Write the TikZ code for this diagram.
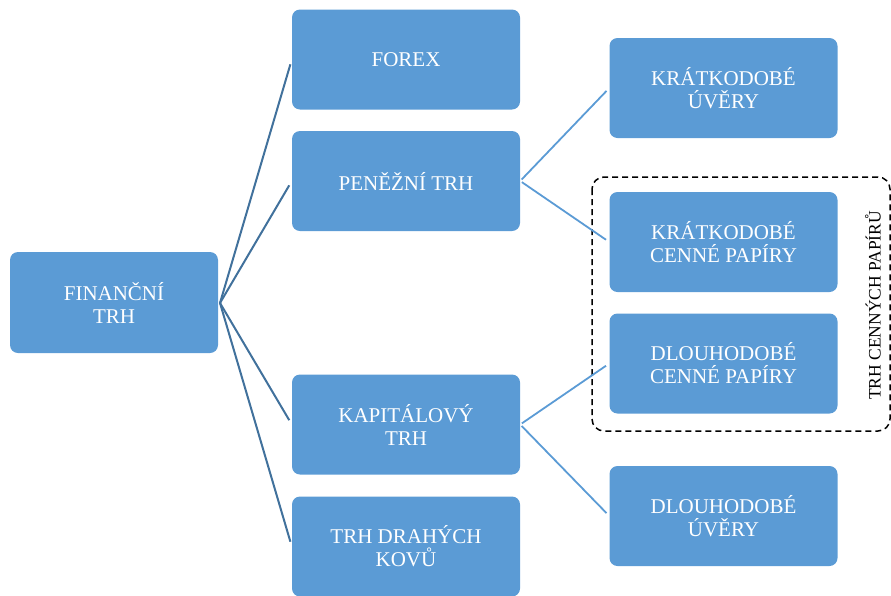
\documentclass[tikz,border=0pt]{standalone}
\usepackage{fontspec}
\setmainfont{Liberation Serif}
\definecolor{boxblue}{HTML}{5B9BD5}
\definecolor{linedark}{HTML}{41719C}
\begin{document}
\begin{tikzpicture}
[x=1pt,y=-1pt,
 boxDecorate/.style={shape=rectangle,rounded corners=8pt,fill=boxblue,text=white,
   minimum width=228pt,minimum height=100pt,inner sep=0pt,align=center,
   font=\fontsize{21}{23}\selectfont},
 lineDecorate/.style={-,line width=2pt,draw=linedark,shorten >=5pt},
 subLineDecorate/.style={-,line width=1.8pt,draw=boxblue,shorten <=2pt,shorten >=4pt},
 groupDecorate/.style={draw=black,line width=1.5pt,dash pattern=on 6pt off 4pt,rounded corners=12pt}]
\useasboundingbox (0,0) rectangle (891,595);
%% group of securities markets
\draw[groupDecorate] (592,177) rectangle (890,431);
\node (grouplabel) at (873,305.5) [rotate=90,font=\fontsize{17.5}{20}\selectfont] {TRH CENNÝCH PAPÍRŮ};
%% boxes
\node (fin) at (114,302.5) [boxDecorate,minimum width=208pt,minimum height=101pt] {FINANČNÍ\\TRH};
\coordinate (hub) at (220,303);
\foreach \nodename/\x/\y/\txt in {forex/406/59.5/{FOREX},
    penez/406/181/{PENĚŽNÍ TRH},
    kapital/406/424.5/{KAPITÁLOVÝ\\TRH},
    kovy/406/546.5/{TRH DRAHÝCH\\KOVŮ},
    kruv/723.5/88/{KRÁTKODOBÉ\\ÚVĚRY},
    krcp/723.5/242/{KRÁTKODOBÉ\\CENNÉ PAPÍRY},
    dlcp/723.5/363.5/{DLOUHODOBÉ\\CENNÉ PAPÍRY},
    dluv/723.5/516/{DLOUHODOBÉ\\ÚVĚRY}} {
  \node (\nodename) at (\x,\y) [boxDecorate] {\txt};
}
%% connectors
\path
\foreach \endnode in {forex, penez, kapital, kovy} {
  (hub) edge[lineDecorate] (\endnode.west)
};
\path
\foreach \startnode/\endnode in {penez/kruv, penez/krcp, kapital/dlcp, kapital/dluv} {
  (\startnode.east) edge[subLineDecorate] (\endnode.west)
};
\end{tikzpicture}
\end{document}
